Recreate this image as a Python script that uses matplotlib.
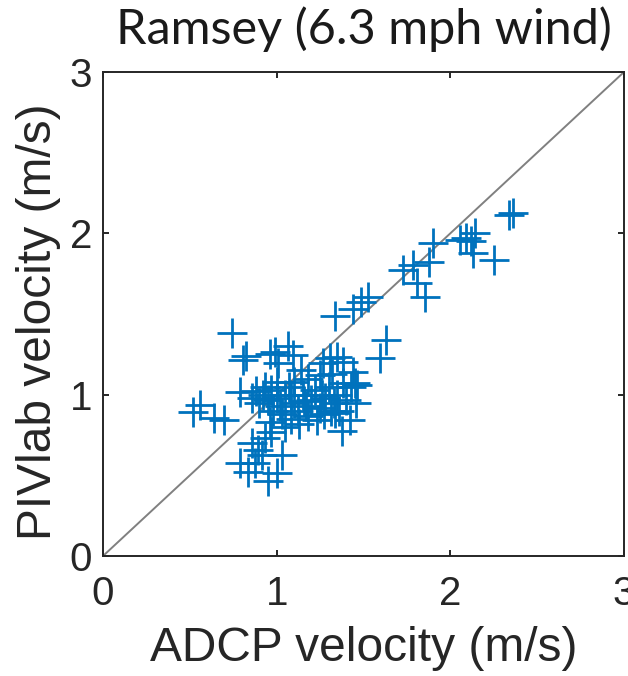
import matplotlib
matplotlib.use("Agg")
import matplotlib.pyplot as plt
import numpy as np

# ADCP velocity (x) vs PIVlab velocity (y), m/s
adcp = [
    2.34, 2.36, 2.14, 2.09, 2.055, 2.12, 2.13, 2.25, 1.90, 1.875,
    1.725, 1.785, 1.81, 1.855, 1.525, 1.485, 1.44, 1.335, 1.63, 1.595,
    0.743, 0.518, 0.558, 0.639, 0.694, 0.789,
    0.806, 0.823, 0.964, 0.99, 1.065, 1.094, 1.007,
    1.265, 1.307, 1.345, 1.383, 1.441, 1.46, 1.451, 1.456, 1.376, 1.422, 1.336,
    0.86, 0.90, 0.92, 0.95, 0.97, 1.00, 1.02, 1.05, 1.07, 1.10,
    1.12, 1.15, 1.17, 1.20, 1.22, 1.25, 1.28, 1.30, 1.33, 1.35,
    1.38, 1.40, 1.08, 1.13, 1.18, 1.23, 1.27, 1.03, 0.98, 1.10,
    1.18, 1.25, 1.32, 0.93, 1.00, 1.14, 1.05, 0.96, 1.43, 1.36,
    1.08, 1.16, 1.26, 1.31, 0.88,
    0.789, 0.835, 0.858, 0.892, 0.933, 0.915, 0.95, 1.00, 0.967, 0.875, 1.03,
]
piv = [
    2.115, 2.127, 2.00, 1.97, 1.96, 1.95, 1.88, 1.835, 1.94, 1.82,
    1.775, 1.805, 1.69, 1.605, 1.605, 1.575, 1.53, 1.49, 1.34, 1.225,
    1.382, 0.893, 0.935, 0.854, 0.842, 1.017,
    1.214, 1.239, 1.252, 1.264, 1.301, 1.245, 1.196,
    1.194, 1.225, 1.235, 1.204, 1.142, 1.059, 1.071, 0.949, 0.773, 0.842, 0.885,
    0.98, 0.95, 1.00, 0.97, 1.03, 0.98, 0.93, 1.00, 1.05, 0.95,
    0.90, 1.00, 0.93, 0.97, 1.03, 0.92, 0.98, 1.05, 0.95, 1.00,
    1.07, 0.97, 0.85, 0.82, 0.87, 0.84, 0.88, 0.88, 0.90, 1.08,
    1.10, 1.12, 1.13, 1.05, 1.08, 1.15, 0.80, 0.83, 1.05, 0.90,
    1.00, 0.96, 1.00, 0.90, 1.02,
    0.575, 0.519, 0.699, 0.655, 0.73, 0.624, 0.463, 0.512, 0.767, 0.575, 0.624,
]
ticks = [0, 1, 2, 3]
title = "Ramsey (6.3 mph wind)"
xlabel = "ADCP velocity (m/s)"
ylabel = "PIVlab velocity (m/s)"

W, H = 628, 676
fig = plt.figure(figsize=(W / 100, H / 100), dpi=100)
ax = fig.add_axes([103 / W, 1 - 556 / H, 521 / W, 484 / H])

ax.plot([0, 3], [0, 3], color="#808080", lw=1.4, zorder=1)
ax.plot(adcp, piv, linestyle="none", marker="+", markersize=21.6,
        markeredgewidth=2.0, color="#0072BD", zorder=2)

ax.set_xlim(0, 3)
ax.set_ylim(0, 3)
ax.set_xticks(ticks)
ax.set_yticks(ticks)
ax.set_xticklabels([str(t) for t in ticks])
ax.set_yticklabels([str(t) for t in ticks])

for s in ax.spines.values():
    s.set_color("#262626")
    s.set_linewidth(1.4)
ax.tick_params(direction="in", length=4.5, width=1.4, color="#262626",
               top=True, right=True, labelcolor="#262626")
ax.tick_params(axis="x", labelsize=29, pad=14)
ax.tick_params(axis="y", labelsize=29, pad=8)
for lab in ax.get_xticklabels() + ax.get_yticklabels():
    lab.set_family("Liberation Sans")

ax.set_xlabel(xlabel, fontsize=34.5, family="Liberation Sans", color="#262626")
ax.set_ylabel(ylabel, fontsize=34.5, family="Liberation Sans", color="#262626")
ax.xaxis.set_label_coords(0.5, -0.145)
ax.yaxis.set_label_coords(-0.081, 0.485)
ax.xaxis.label.set_va("top")

ax.set_title(title, fontsize=35, family="Lato", color="#1a1a1a", pad=20)

fig.savefig("out.png", dpi=100)
